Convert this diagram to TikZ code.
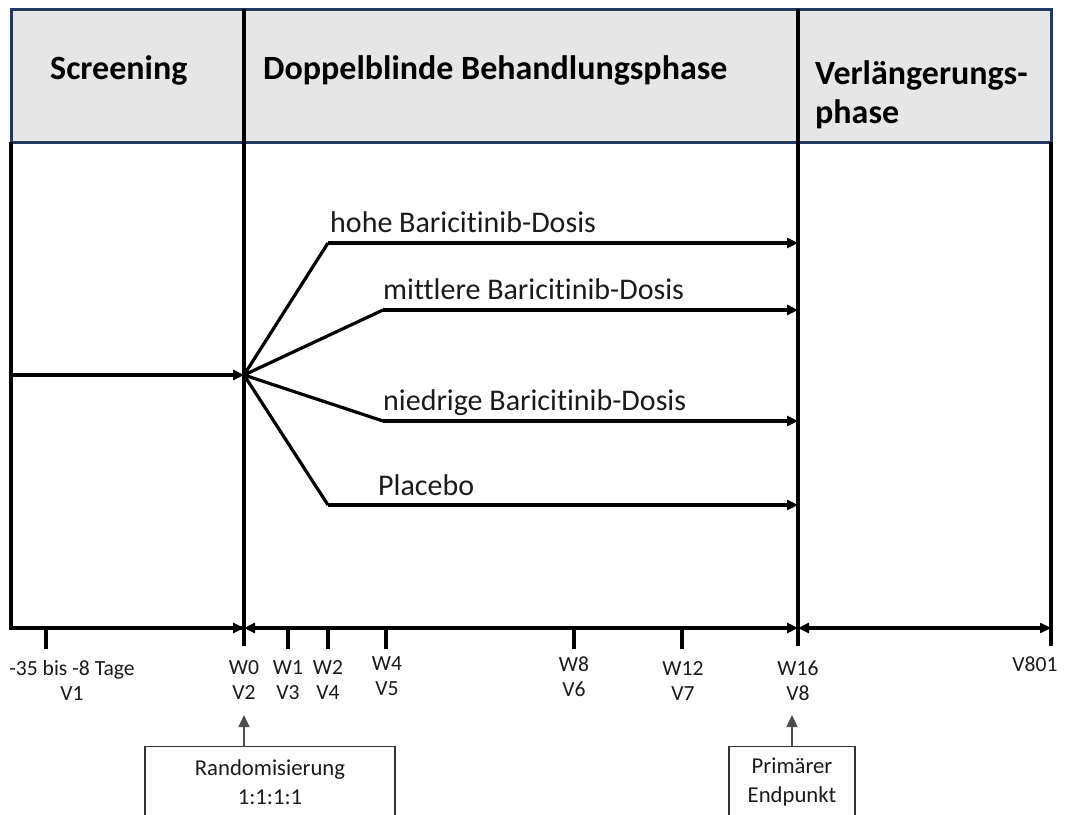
\documentclass[tikz,border=0pt]{standalone}
\usepackage{fontspec}
\setmainfont{Carlito}[Ligatures={NoCommon}]
\usetikzlibrary{arrows.meta}
\definecolor{hdrfill}{HTML}{E6E6E6}
\definecolor{hdrline}{HTML}{1F3864}
\definecolor{txt}{HTML}{1A1A1A}
\begin{document}
\begin{tikzpicture}[x=1pt,y=-1pt,
  heavy/.style={line width=3.2pt},
  arr/.style={heavy,-{Triangle[length=11pt,width=10pt]}},
  dblarr/.style={heavy,{Triangle[length=11pt,width=10pt]}-{Triangle[length=11pt,width=10pt]}},
  thinarr/.style={line width=1.3pt,draw=black!70,-{Triangle[length=12pt,width=11pt]}},
  hdr/.style={font=\bfseries\fontsize{34}{37}\selectfont,anchor=base west,inner sep=0pt,text=black},
  arm/.style={font=\fontsize{30}{34}\selectfont,anchor=base west,inner sep=0pt,text=txt},
  tick lbl/.style={font=\fontsize{21.6}{25}\selectfont,align=center,inner sep=0pt,text=txt,anchor=center},
  box/.style={draw=black!80,line width=1.2pt,anchor=north,inner sep=0pt},
  boxtxt/.style={font=\fontsize{22.7}{29}\selectfont,align=center,anchor=center,text=txt,inner sep=0pt}]
\useasboundingbox (0,0) rectangle (1068,814);
\clip (0,0) rectangle (1068,814);
% header
\fill[hdrfill] (11,9) rectangle (1051,142);
\draw[hdrline,line width=3pt] (11,9) rectangle (1051,142);
\node[hdr] (scr) at (50,79) {Screening};
\node[hdr] (dbl) at (263,79) {Doppelblinde Behandlungsphase};
\node[hdr] (ext1) at (815,84) {Verlängerungs-};
\node[hdr] (ext2) at (815,123) {phase};
% frame lines
\draw[heavy] (244,9) -- (244,646);
\draw[heavy] (798,9) -- (798,646);
\draw[heavy] (11,142) -- (11,629.6);
\draw[heavy] (1051,142) -- (1051,646);
% timeline
\coordinate (t0) at (11,628);
\coordinate (t1) at (244,628);
\coordinate (t2) at (798,628);
\coordinate (t3) at (1051,628);
\draw[heavy] (9.4,628) -- (t1);
\draw[arr] (t0) -- (t1);
\draw[dblarr] (t1) -- (t2);
\draw[dblarr] (t2) -- (t3);
\foreach \x in {46,288,328,386,574,682} \draw[heavy] (\x,628) -- (\x,649);
% tick labels
\node[tick lbl] (l1) at (72,680) {-35 bis -8 Tage\\V1};
\node[tick lbl] (l2) at (244,680) {W0\\V2};
\node[tick lbl] (l3) at (288,680) {W1\\V3};
\node[tick lbl] (l4) at (328,680) {W2\\V4};
\node[tick lbl] (l5) at (387,676) {W4\\V5};
\node[tick lbl] (l6) at (574,677) {W8\\V6};
\node[tick lbl] (l7) at (683,681) {W12\\V7};
\node[tick lbl] (l8) at (798,681) {W16\\V8};
\node[tick lbl] (l9) at (1035,664) {V801};
% arms
\coordinate (src) at (11,375);
\coordinate (rnd) at (244,375);
\draw[arr] (src) -- (rnd);
\coordinate (h1) at (328,243);
\coordinate (h2) at (383,310);
\coordinate (h3) at (383,421);
\coordinate (h4) at (328,505);
\coordinate (e1) at (798,243);
\coordinate (e2) at (798,310);
\coordinate (e3) at (798,421);
\coordinate (e4) at (798,505);
\draw[heavy,line join=round] (rnd) -- (h1);
\draw[heavy,line join=round] (rnd) -- (h2);
\draw[heavy,line join=round] (rnd) -- (h3);
\draw[heavy,line join=round] (rnd) -- (h4);
\draw[arr] (h1) -- (e1);
\draw[arr] (h2) -- (e2);
\draw[arr] (h3) -- (e3);
\draw[arr] (h4) -- (e4);
\node[arm] (a1) at (330,232) {hohe Baricitinib-Dosis};
\node[arm] (a2) at (383,299) {mittlere Baricitinib-Dosis};
\node[arm] (a3) at (383,410) {niedrige Baricitinib-Dosis};
\node[arm] (a4) at (378,495) {Placebo};
% bottom boxes
\node[box,minimum width=250pt,minimum height=90pt] (rb) at (270,746) {};
\node[boxtxt] (rbt) at (270,782) {Randomisierung\\1:1:1:1};
\node[box,minimum width=126pt,minimum height=90pt] (pb) at (792,746) {};
\node[boxtxt] (pbt) at (792,782) {Primärer\\Endpunkt};
\draw[thinarr] (rb.north -| t1) -- ++(0,-31);
\draw[thinarr] (pb.north) -- ++(0,-31);
\end{tikzpicture}
\end{document}
